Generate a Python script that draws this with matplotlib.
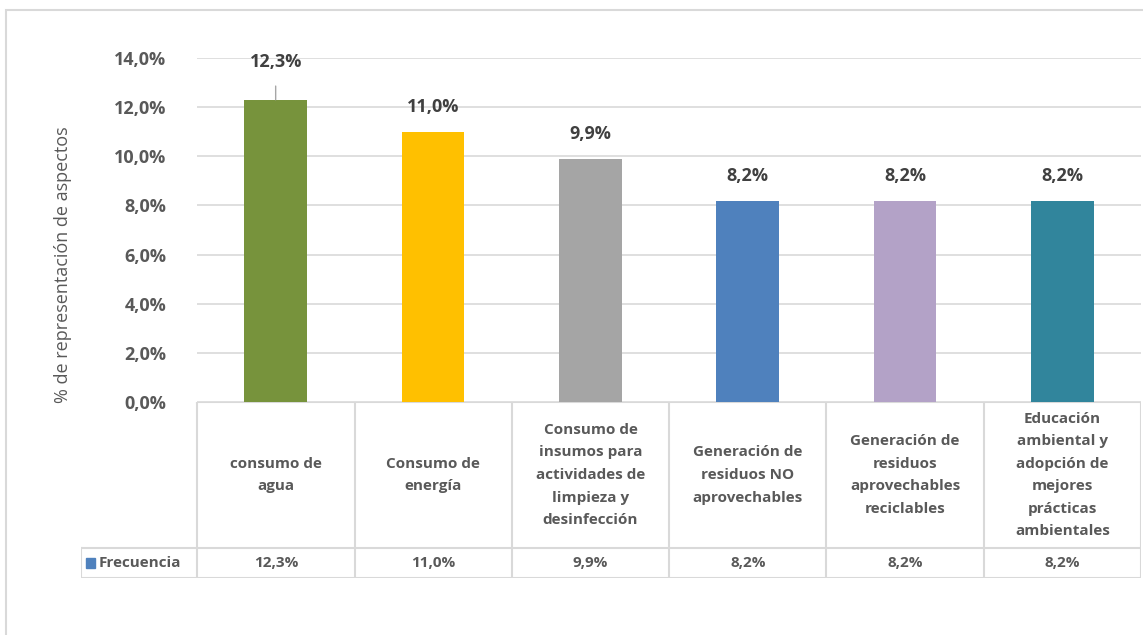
import matplotlib.pyplot as plt
from matplotlib.patches import Rectangle

# Datos del gráfico
categorias = ['consumo de\nagua', 'Consumo de\nenergía',
              'Consumo de\ninsumos para\nactividades de\nlimpieza y\ndesinfección',
              'Generación de\nresiduos NO\naprovechables',
              'Generación de\nresiduos\naprovechables\nreciclables',
              'Educación\nambiental y\nadopción de\nmejores\nprácticas\nambientales']
frecuencia = [12.3, 11.0, 9.9, 8.2, 8.2, 8.2]
colores = ['#77933c', '#ffc000', '#a5a5a5', '#4f81bd', '#b3a2c7', '#31859c']
serie = 'Frecuencia'
ticks_y = [0, 2, 4, 6, 8, 10, 12, 14]

def pct(v):
    return f'{v:.1f}%'.replace('.', ',')

W, H = 1143, 635
plt.rcParams['font.family'] = ['Open Sans', 'DejaVu Sans']
fig = plt.figure(figsize=(W / 100, H / 100), dpi=100)

# Marco exterior del gráfico
fig.add_artist(Rectangle((6 / W, -0.1), 1.2, (H - 10) / H + 0.1, transform=fig.transFigure,
                         fill=False, edgecolor='#d9d9d9', linewidth=1.5))

# Ejes principales (barras)
x0, x1 = 197, 1141
y_top, y_cero = 58, 402
ax = fig.add_axes([x0 / W, (H - y_cero) / H, (x1 - x0) / W, (y_cero - y_top) / H])
xs = range(len(frecuencia))
ax.bar(xs, frecuencia, width=0.4, color=colores, zorder=3)
ax.set_xlim(-0.5, len(frecuencia) - 0.5)
ax.set_ylim(0, 14)
ax.set_yticks(ticks_y)
ax.set_yticklabels([pct(t) for t in ticks_y], fontsize=13, fontweight='bold', color='#595959')
ax.tick_params(axis='y', length=0, pad=22)
ax.set_xticks([])
ax.grid(axis='y', color='#d9d9d9', linewidth=1.2, zorder=0)
for s in ax.spines.values():
    s.set_visible(False)
ax.set_ylabel('% de representación de aspectos', fontsize=13, color='#595959')
ax.yaxis.set_label_coords(-0.132, 0.4)

# Etiquetas de datos
for i, v in enumerate(frecuencia):
    if i == 0:
        ax.annotate(pct(v), xy=(i, v), xytext=(0, 38), textcoords='offset pixels',
                    ha='center', va='center', fontsize=13, fontweight='bold', color='#404040',
                    arrowprops=dict(arrowstyle='-', color='#a6a6a6', lw=1, shrinkA=9, shrinkB=0))
    else:
        ax.annotate(pct(v), xy=(i, v), xytext=(0, 25), textcoords='offset pixels',
                    ha='center', va='center', fontsize=13, fontweight='bold', color='#404040')

# Tabla de datos debajo
t_izq, t_abajo = 81, 578
fila1 = 548
tab = fig.add_axes([t_izq / W, (H - t_abajo) / H, (x1 - t_izq) / W, (t_abajo - y_cero) / H])
ancho_cab = (x0 - t_izq) / 157
tab.set_xlim(-0.5 - ancho_cab, len(frecuencia) - 0.5)
tab.set_ylim(t_abajo, y_cero)
tab.axis('off')
lc = dict(color='#d9d9d9', linewidth=1.5)
for i in range(len(frecuencia) + 1):
    tab.plot([i - 0.5, i - 0.5], [y_cero, t_abajo], **lc)
tab.plot([-0.5 - ancho_cab, -0.5 - ancho_cab], [fila1, t_abajo], **lc)
tab.plot([-0.5, len(frecuencia) - 0.5], [y_cero, y_cero], **lc)
tab.plot([-0.5 - ancho_cab, len(frecuencia) - 0.5], [fila1, fila1], **lc)
tab.plot([-0.5 - ancho_cab, len(frecuencia) - 0.5], [t_abajo, t_abajo], **lc)
for i, (c, v) in enumerate(zip(categorias, frecuencia)):
    tab.text(i, (y_cero + fila1) / 2, c, ha='center', va='center', fontsize=11,
             fontweight='bold', color='#595959', linespacing=1.78)
    tab.text(i, (fila1 + t_abajo) / 2, pct(v), ha='center', va='center', fontsize=11,
             fontweight='bold', color='#595959')
tab.add_patch(Rectangle((-0.5 - ancho_cab + 0.03, 558), 0.062, 10, color='#4f81bd', clip_on=False))
tab.text(-0.5 - ancho_cab + 0.11, (fila1 + t_abajo) / 2, serie, ha='left', va='center',
         fontsize=11, fontweight='bold', color='#595959')

fig.savefig('out.png', dpi=100)
